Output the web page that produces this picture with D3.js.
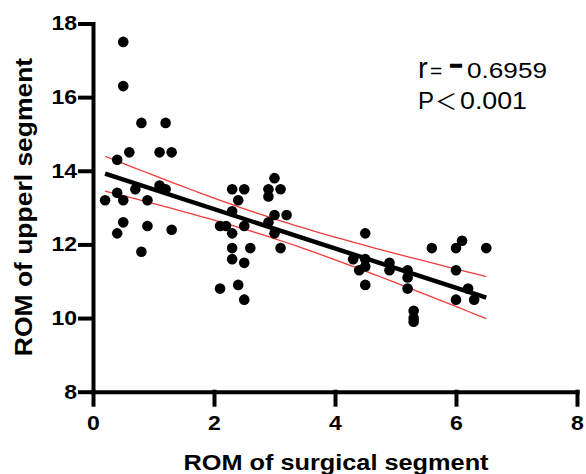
<!DOCTYPE html>
<html>
<head>
<meta charset="utf-8">
<script src="https://cdn.jsdelivr.net/npm/d3@7"></script>
<style>
  body { margin: 0; background: #fff; }
  text { font-family: "Liberation Sans", Arial, sans-serif; }
</style>
</head>
<body>
<div id="chart"></div>
<script>
// points: ROM of surgical segment (x) vs upper segment (y)
const surgical = [
  0.5, 0.5, 0.8, 1.2, 0.6, 1.1, 1.3, 0.4, 0.7, 1.1, 1.2, 0.4, 0.2, 0.5, 0.9, 0.5, 0.4, 0.9, 1.3, 0.8,
  3.0, 2.3, 2.5, 2.9, 3.1, 2.4, 2.9, 2.3, 3.0, 3.2, 2.9, 2.1, 2.2, 2.5, 2.3, 3.0, 2.3, 2.6, 3.1, 2.3, 2.5, 2.4, 2.1, 2.5,
  4.5, 5.6, 6.1, 6.0, 6.5, 4.3, 4.5, 4.4, 4.5, 4.9, 4.9, 5.2, 5.2, 6.0, 4.5, 5.2, 6.2, 6.0, 6.3, 5.3, 5.3, 5.3
];
const upper = [
  17.5, 16.3, 15.3, 15.3, 14.5, 14.5, 14.5, 14.3, 13.5, 13.6, 13.5, 13.4, 13.2, 13.2, 13.2, 12.6, 12.3, 12.5, 12.4, 11.8,
  13.8, 13.5, 13.5, 13.5, 13.5, 13.2, 13.3, 12.9, 12.8, 12.8, 12.6, 12.5, 12.5, 12.5, 12.3, 12.3, 11.9, 11.9, 11.9, 11.6, 11.5, 10.9, 10.8, 10.5,
  12.3, 11.9, 12.1, 11.9, 11.9, 11.6, 11.6, 11.3, 11.4, 11.5, 11.3, 11.3, 11.1, 11.3, 10.9, 10.8, 10.8, 10.5, 10.5, 10.2, 10.0, 9.9
];
const xTicks = [0, 2, 4, 6, 8];
const yTicks = [8, 10, 12, 14, 16, 18];
const rValue = "0.6959";
const pValue = "0.001";

const width = 586, height = 474;

const svg = d3.select("#chart").append("svg")
    .attr("width", width)
    .attr("height", height);

const x = d3.scaleLinear().domain([0, 8]).range([93, 577]);
const y = d3.scaleLinear().domain([8, 18]).range([391.7, 23.5]);

// simple linear regression + 95% confidence band of the mean
const n = surgical.length;
const mx = d3.mean(surgical), my = d3.mean(upper);
let sxx = 0, sxy = 0;
surgical.forEach((v, i) => { sxx += (v - mx) ** 2; sxy += (v - mx) * (upper[i] - my); });
const slope = sxy / sxx, icpt = my - slope * mx;
let sse = 0;
surgical.forEach((v, i) => { sse += (upper[i] - (icpt + slope * v)) ** 2; });
const s = Math.sqrt(sse / (n - 2));
const tcrit = 1.998;
const [x0, x1] = d3.extent(surgical);
const xs = d3.range(0, 41).map(i => x0 + (x1 - x0) * i / 40);
const band = k => xs.map(v => [v, icpt + slope * v + k * tcrit * s * Math.sqrt(1 / n + (v - mx) ** 2 / sxx)]);

const line = d3.line().x(d => x(d[0])).y(d => y(d[1]));

svg.append("g").selectAll("path")
    .data([band(1), band(-1)])
    .join("path")
    .attr("d", line)
    .attr("fill", "none")
    .attr("stroke", "#f03a3a")
    .attr("stroke-width", 1.3);

svg.append("path")
    .datum([[x0, icpt + slope * x0], [x1, icpt + slope * x1]])
    .attr("d", line)
    .attr("fill", "none")
    .attr("stroke", "#000")
    .attr("stroke-width", 4.5);

// points
svg.append("g").selectAll("circle")
    .data(surgical)
    .join("circle")
    .attr("cx", d => x(d))
    .attr("cy", (d, i) => y(upper[i]))
    .attr("r", 5.3)
    .attr("fill", "#000");

// axes
const stretch = (sel, k = 1.15) => sel.each(function () {
  const w = this.getComputedTextLength();
  d3.select(this).attr("textLength", w * k).attr("lengthAdjust", "spacingAndGlyphs");
});

const xAxis = svg.append("g")
    .attr("transform", `translate(0,${y(8)})`)
    .call(d3.axisBottom(x).tickValues(xTicks).tickSize(13).tickSizeOuter(0).tickPadding(11).tickFormat(d3.format("d")));
const yAxis = svg.append("g")
    .attr("transform", `translate(${x(0)},0)`)
    .call(d3.axisLeft(y).tickValues(yTicks).tickSize(13).tickSizeOuter(0).tickPadding(3).tickFormat(d3.format("d")));

[xAxis, yAxis].forEach(g => {
  g.selectAll("path, line").attr("stroke", "#000").attr("stroke-width", 4).attr("stroke-linecap", "square");
  g.selectAll("text").attr("font-size", 20).attr("font-weight", "bold").attr("fill", "#000")
      .style("font-family", '"Liberation Sans", Arial, sans-serif').call(stretch);
});

// axis titles
svg.append("text")
    .attr("x", 336)
    .attr("y", 470)
    .attr("text-anchor", "middle")
    .attr("font-size", 22)
    .attr("font-weight", "bold")
    .text("ROM of surgical segment")
    .call(stretch);

svg.append("text")
    .attr("transform", "translate(32,207) rotate(-90)")
    .attr("text-anchor", "middle")
    .attr("font-size", 23)
    .attr("font-weight", "bold")
    .text("ROM of upperl segment")
    .call(stretch);

// r and P annotation
const ann = svg.append("text").attr("y", 78).attr("fill", "#000");
ann.append("tspan").attr("x", 418).attr("font-size", 29).text("r");
ann.append("tspan").attr("x", 430).attr("font-size", 21).text("=");
ann.append("tspan").attr("x", 450).attr("font-size", 24).attr("font-weight", "bold")
    .attr("stroke", "#000").attr("stroke-width", 1.6)
    .attr("dy", -6).attr("textLength", 12).attr("lengthAdjust", "spacingAndGlyphs").text("\u2013");
ann.append("tspan").attr("x", 467).attr("dy", 6).attr("font-size", 22)
    .attr("textLength", 80).attr("lengthAdjust", "spacingAndGlyphs").text(rValue);

const pt = svg.append("text").attr("y", 109).attr("fill", "#000");
pt.append("tspan").attr("x", 418).attr("font-size", 24).text("P");
pt.append("tspan").attr("x", 435).attr("font-size", 22)
    .style("font-family", '"Noto Sans CJK SC", sans-serif').text("\uFF1C");
pt.append("tspan").attr("x", 460).attr("font-size", 24)
    .attr("textLength", 67).attr("lengthAdjust", "spacingAndGlyphs").text(pValue);
</script>
</body>
</html>
